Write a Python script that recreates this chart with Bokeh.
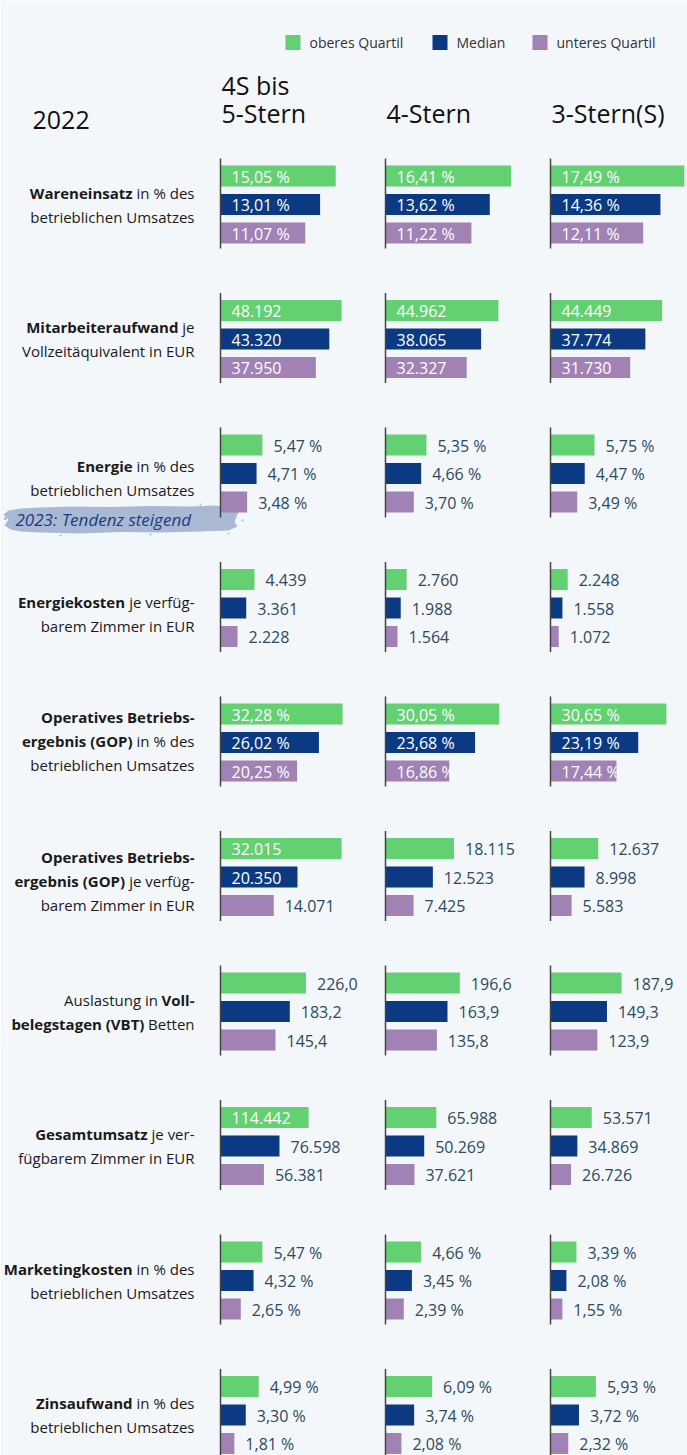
from bokeh.plotting import figure
from bokeh.models import Range1d
from bokeh.core.properties import value
from bokeh.embed import file_html
from bokeh.resources import INLINE

# ---------------- data ----------------
year_label = "2022"
categories = [["4S bis", "5-Stern"], ["4-Stern"], ["3-Stern(S)"]]
series = ["oberes Quartil", "Median", "unteres Quartil"]
colors = ["#63d072", "#0b3a82", "#a082b5"]

# values per category: [oberes Quartil, Median, unteres Quartil]
wareneinsatz = [[15.05, 13.01, 11.07], [16.41, 13.62, 11.22], [17.49, 14.36, 12.11]]
mitarbeiteraufwand = [[48192, 43320, 37950], [44962, 38065, 32327], [44449, 37774, 31730]]
energie = [[5.47, 4.71, 3.48], [5.35, 4.66, 3.70], [5.75, 4.47, 3.49]]
energiekosten = [[4439, 3361, 2228], [2760, 1988, 1564], [2248, 1558, 1072]]
gop_prozent = [[32.28, 26.02, 20.25], [30.05, 23.68, 16.86], [30.65, 23.19, 17.44]]
gop_zimmer = [[32015, 20350, 14071], [18115, 12523, 7425], [12637, 8998, 5583]]
auslastung = [[226.0, 183.2, 145.4], [196.6, 163.9, 135.8], [187.9, 149.3, 123.9]]
gesamtumsatz = [[114442, 76598, 56381], [65988, 50269, 37621], [53571, 34869, 26726]]
marketingkosten = [[5.47, 4.32, 2.65], [4.66, 3.45, 2.39], [3.39, 2.08, 1.55]]
zinsaufwand = [[4.99, 3.30, 1.81], [6.09, 3.74, 2.08], [5.93, 3.72, 2.32]]

metric_values = [wareneinsatz, mitarbeiteraufwand, energie, energiekosten, gop_prozent,
                 gop_zimmer, auslastung, gesamtumsatz, marketingkosten, zinsaufwand]
metric_formats = ["pct", "int", "pct", "int", "pct", "int", "dec1", "int", "pct", "pct"]
# axis extent (value reaching one column width) per metric
metric_axis_max = [20.9, 63700, 20.9, 20900, 42.3, 42300, 423, 207800, 20.9, 20.9]

metric_labels = [
    [[("Wareneinsatz", True), ("in % des", False)], [("betrieblichen Umsatzes", False)]],
    [[("Mitarbeiteraufwand", True), ("je", False)], [("Vollzeitäquivalent in EUR", False)]],
    [[("Energie", True), ("in % des", False)], [("betrieblichen Umsatzes", False)]],
    [[("Energiekosten", True), ("je verfüg-", False)], [("barem Zimmer in EUR", False)]],
    [[("Operatives Betriebs-", True)], [("ergebnis (GOP)", True), ("in % des", False)],
     [("betrieblichen Umsatzes", False)]],
    [[("Operatives Betriebs-", True)], [("ergebnis (GOP)", True), ("je verfüg-", False)],
     [("barem Zimmer in EUR", False)]],
    [[("Auslastung in", False), ("Voll-", True)], [("belegstagen (VBT)", True), ("Betten", False)]],
    [[("Gesamtumsatz", True), ("je ver-", False)], [("fügbarem Zimmer in EUR", False)]],
    [[("Marketingkosten", True), ("in % des", False)], [("betrieblichen Umsatzes", False)]],
    [[("Zinsaufwand", True), ("in % des", False)], [("betrieblichen Umsatzes", False)]],
]
note_text = "2023: Tendenz steigend"

# ---------------- layout ----------------
W, H = 687, 1455
X0, Y0 = 0, 0
FONT = "Open Sans"
TXT = "#2c4a5e"
BG = "#f4f7fa"
col_axis_x = [220, 385, 550]
col_px = 160.0
group_y0, group_dy = 204, 134.5
bar_off = [-28.5, 0, 28.5]
bar_h = 21
label_right = 194
label_shift = [0, 0, 4, 6, -2, 4, 0, 0, 0, 0]
line_gap = 24
inside = {0: "all", 1: "all", 4: "all", 5: [(0, 0), (0, 1)], 7: [(0, 0)]}

REG = {' ': .26, 'i': .253, 'n': .614, '%': .828, 'd': .613, 'e': .561, 's': .477, 'j': .253,
       'v': .501, 'r': .408, 'f': .339, 'ü': .614, 'g': .548, '-': .322, 'B': .635, 't': .353}
BOLD = {' ': .26, 'V': .66, 'o': .618, 'l': .289, '-': .322}


def text_w(s, bold, size):
    tab = BOLD if bold else REG
    return sum(tab.get(ch, 0.58 if bold else 0.55) for ch in s) * size


def fmt(v, kind):
    if kind == "pct":
        return f"{v:.2f}".replace(".", ",") + " %"
    if kind == "dec1":
        return f"{v:.1f}".replace(".", ",")
    return f"{int(round(v)):,}".replace(",", ".")


p = figure(width=W, height=H, x_range=Range1d(X0, X0 + W), y_range=Range1d(Y0 + H, Y0),
           x_axis_type=None, y_axis_type=None, toolbar_location=None,
           output_backend="svg", min_border=0)
p.outline_line_color = None
p.background_fill_color = BG
p.border_fill_color = BG
p.grid.visible = False

# legend
leg_x = [285, 432, 532]
for i, (name, c) in enumerate(zip(series, colors)):
    p.rect(x=leg_x[i] + 7.5, y=42, width=15, height=15, fill_color=c, line_color=None)
    p.text(x=[leg_x[i] + 24], y=[42], text=[name], text_font=value(FONT), text_font_size="14px",
           text_color="#333333", text_baseline="middle", text_align="left")

# headers
p.text(x=[32], y=[119], text=[year_label], text_font=value(FONT), text_font_size="25px",
       text_color="#111111", text_baseline="middle")
for c, lines in enumerate(categories):
    n = len(lines)
    for k, ln in enumerate(lines):
        p.text(x=[col_axis_x[c] + 1], y=[112 - (n - 1 - k) * 28], text=[ln], text_font=value(FONT),
               text_font_size="25px", text_color="#111111", text_baseline="middle")

# note badge (brush stroke)
bx = [8, 20, 40, 70, 110, 150, 190, 215, 232, 239, 236, 234, 237, 228, 200, 160, 120, 80, 40, 20, 10, 4, 8, 3]
by = [510, 508, 507, 506, 506.5, 505.5, 506, 505, 507, 510, 516, 521, 526, 530, 531, 532, 531.5, 533, 532, 531, 529, 525, 519, 514]
p.patch(bx, by, fill_color="#a9b9d3", line_color=None)
p.scatter(x=[5, 12, 238, 242, 228, 60, 150, 200], y=[518, 527, 509, 520, 533, 535, 534, 504],
          size=[3, 2, 3, 2, 2, 2, 2, 2], fill_color="#a9b9d3", line_color=None)
p.text(x=[15], y=[519], text=[note_text], text_font=value(FONT), text_font_size="17px",
       text_font_style="italic", text_color="#1b3b85", text_baseline="middle")

for m, vals in enumerate(metric_values):
    gy = group_y0 + m * group_dy
    # left label
    lines = metric_labels[m]
    nl = len(lines)
    for k, segs in enumerate(lines):
        ly = gy + label_shift[m] + (k - (nl - 1) / 2) * line_gap
        xr = label_right
        for txt, bold in reversed(segs):
            p.text(x=[xr], y=[ly], text=[txt], text_font=value(FONT), text_font_size="15px",
                   text_font_style="bold" if bold else "normal", text_color="#1a1a1a",
                   text_align="right", text_baseline="middle")
            xr -= text_w(txt, bold, 15) + text_w(" ", False, 15)
    for c in range(3):
        rname = f"r{m}c{c}"
        scale = metric_axis_max[m] / col_px
        p.extra_x_ranges[rname] = Range1d(start=(X0 - col_axis_x[c]) * scale,
                                          end=(X0 + W - col_axis_x[c]) * scale)
        ys = [gy + o for o in bar_off]
        v3 = vals[c]
        p.hbar(y=ys, left=0, right=v3, height=bar_h, fill_color=colors, line_color=None,
               x_range_name=rname)
        for s in range(3):
            ins = inside.get(m)
            is_in = ins == "all" or (isinstance(ins, list) and (c, s) in ins)
            p.text(x=[0 if is_in else v3[s]], y=[ys[s] + 0.5], text=[fmt(v3[s], metric_formats[m])],
                   x_offset=11, text_font=value(FONT), text_font_size="16px",
                   text_color="#ffffff" if is_in else TXT, text_baseline="middle",
                   text_align="left", x_range_name=rname)
        p.segment(x0=[0], x1=[0], y0=[gy - 46], y1=[gy + 44], line_color="#444444",
                  line_width=1.5, x_range_name=rname)

open("out.html", "w").write(file_html(p, INLINE))
